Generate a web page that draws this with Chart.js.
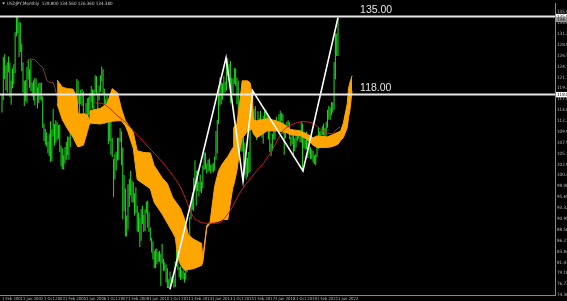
<!DOCTYPE html>
<html>
<head>
<meta charset="utf-8">
<script src="https://cdn.jsdelivr.net/npm/chart.js@4.4.1/dist/chart.umd.min.js"></script>
<style>
  html, body { margin: 0; padding: 0; background: #000; }
  canvas { display: block; }
</style>
</head>
<body>
<canvas id="usdjpy-chart" width="567" height="301"></canvas>
<script>
// USDJPY, Monthly - Feb 2001 .. Jun 2022
const chartTitle = 'USDJPY,Monthly  128.800 134.560 126.360 134.380';

// x axis labels (one every 16 months)
const tickMonths = [0, 16, 32, 48, 64, 80, 96, 112, 128, 144, 160, 176, 192, 208, 224, 240, 256];
const tickLabels = ['1 Feb 2001', '1 Jun 2002', '1 Oct 2003', '1 Feb 2005', '1 Jun 2006', '1 Oct 2007',
  '1 Feb 2009', '1 Jun 2010', '1 Oct 2011', '1 Feb 2013', '1 Jun 2014', '1 Oct 2015',
  '1 Feb 2017', '1 Jun 2018', '1 Oct 2019', '1 Feb 2021', '1 Jun 2022'];

// price scale labels
const priceTicks = [74.36, 76.73, 79.10, 81.47, 83.84, 86.21, 88.58, 90.95, 93.32, 95.69, 98.06,
  100.43, 102.80, 105.17, 107.54, 109.91, 112.28, 114.65, 117.02, 119.39, 121.76, 124.13,
  126.50, 128.87, 131.24, 133.61, 135.98];

// monthly highs
const highs = [
  118.0, 126.2, 126.8, 124.4, 125.0, 126.3, 125.0, 121.1, 123.7, 124.6, 131.6,              // 2001
  135.2, 135.0, 133.8, 133.7, 129.1, 125.0, 121.0, 121.2, 124.0, 125.7, 123.5, 125.6,       // 2002
  120.6, 121.1, 121.6, 121.5, 119.6, 120.5, 120.6, 120.6, 117.6, 111.7, 110.5, 109.8,       // 2003
  107.8, 109.5, 112.2, 110.4, 114.9, 111.6, 112.4, 112.0, 111.4, 111.5, 106.9, 106.3,       // 2004
  104.8, 106.6, 107.7, 108.9, 108.8, 111.1, 113.3, 112.5, 113.6, 116.4, 121.4, 121.0,       // 2005
  118.0, 119.0, 119.2, 118.7, 114.0, 116.2, 117.2, 117.4, 118.3, 119.9, 119.1, 119.1,       // 2006
  122.2, 122.0, 118.3, 120.0, 122.2, 124.1, 123.5, 119.3, 117.0, 117.9, 115.0, 114.7,       // 2007
  114.7, 108.6, 104.0, 105.0, 105.6, 108.6, 108.6, 110.7, 110.0, 106.5, 100.5, 97.5,        // 2008
  91.7, 98.5, 99.7, 101.4, 99.3, 98.9, 96.5, 97.8, 93.8, 92.3, 91.1, 93.1,                  // 2009
  93.8, 91.8, 93.0, 94.7, 94.9, 92.4, 89.1, 86.8, 86.0, 84.0, 84.4, 84.5,                   // 2010
  83.7, 84.0, 83.3, 85.5, 82.2, 81.5, 81.0, 80.2, 77.8, 79.5, 78.3, 78.3,                   // 2011
  77.9, 81.7, 84.2, 83.1, 80.4, 80.6, 79.8, 79.7, 79.2, 80.4, 82.8, 86.6,                   // 2012
  91.3, 94.5, 96.7, 99.9, 103.7, 101.5, 101.5, 99.0, 100.6, 99.0, 102.6, 105.4,             // 2013
  105.4, 103.0, 103.8, 104.1, 102.8, 102.8, 103.1, 104.5, 110.1, 112.5, 119.0, 121.8,       // 2014
  120.8, 120.5, 122.0, 120.8, 124.5, 125.9, 124.6, 125.3, 121.7, 121.5, 123.8, 123.7,       // 2015
  121.7, 121.0, 114.0, 112.7, 111.4, 110.0, 107.5, 104.3, 104.2, 105.5, 114.8, 118.7,       // 2016
  118.6, 114.9, 115.5, 112.2, 114.4, 112.9, 114.5, 111.0, 113.3, 114.4, 114.7, 113.8,       // 2017
  113.4, 111.5, 107.3, 109.5, 111.4, 111.0, 113.2, 111.8, 113.7, 114.5, 114.0, 113.7,       // 2018
  110.0, 111.5, 112.1, 112.4, 112.0, 108.8, 109.0, 109.3, 108.5, 109.3, 109.7, 109.7,       // 2019
  110.3, 112.2, 111.7, 109.4, 108.1, 109.9, 107.8, 107.1, 106.6, 106.1, 105.7, 104.8,       // 2020
  105.0, 106.7, 110.9, 110.0, 110.2, 111.1, 111.7, 110.8, 112.1, 114.7, 115.5, 115.2,       // 2021
  116.4, 116.3, 125.1, 131.3, 131.3, 134.6                                                   // 2022
];

// monthly lows
const lows = [
  114.1, 116.8, 121.4, 118.9, 118.4, 122.8, 117.5, 115.8, 119.4, 120.3, 122.7,              // 2001
  130.7, 131.3, 126.2, 127.3, 123.1, 118.4, 115.5, 116.6, 116.2, 121.3, 119.5, 118.8,       // 2002
  117.6, 116.7, 115.7, 117.8, 115.0, 116.2, 116.9, 116.7, 110.8, 107.9, 107.1, 106.7,       // 2003
  105.2, 104.6, 103.4, 103.5, 108.9, 106.9, 107.5, 108.0, 108.4, 105.5, 102.4, 101.8,       // 2004
  101.7, 103.0, 103.8, 104.8, 103.8, 106.6, 110.3, 108.7, 109.2, 113.1, 115.1, 115.9,       // 2005
  113.4, 115.9, 115.5, 113.4, 108.9, 110.0, 113.2, 113.5, 114.7, 116.3, 114.9, 114.4,       // 2006
  118.4, 118.2, 111.6, 116.8, 118.6, 120.9, 118.2, 111.6, 113.2, 113.2, 107.2, 107.9,       // 2007
  104.9, 104.4, 95.7, 99.5, 101.5, 103.6, 103.8, 107.7, 102.6, 90.9, 92.7, 87.1,            // 2008
  87.1, 88.6, 93.5, 96.1, 94.5, 94.5, 91.7, 92.2, 88.2, 88.0, 84.8, 86.2,                   // 2009
  89.8, 88.1, 88.3, 92.1, 89.0, 88.1, 86.2, 83.6, 82.1, 80.2, 80.2, 81.0,                   // 2010
  81.5, 81.6, 76.3, 81.2, 79.6, 79.7, 77.1, 75.9, 75.9, 75.6, 76.9, 77.0,                   // 2011
  76.0, 76.1, 80.5, 79.8, 78.2, 77.6, 77.9, 77.9, 77.1, 77.7, 79.3, 81.7,                   // 2012
  86.5, 90.9, 92.9, 92.6, 97.2, 93.8, 97.0, 95.8, 96.9, 96.6, 97.6, 101.6,                  // 2013
  101.8, 100.8, 101.2, 101.4, 100.8, 101.2, 101.1, 101.5, 103.8, 105.2, 111.6, 115.6,       // 2014
  115.9, 116.9, 118.3, 118.5, 118.9, 122.1, 121.9, 116.2, 118.6, 118.1, 120.3, 119.9,       // 2015
  115.9, 111.0, 110.7, 105.6, 105.6, 99.0, 100.6, 99.5, 100.1, 100.9, 101.2, 112.9,         // 2016
  111.6, 111.7, 110.1, 108.1, 110.2, 108.8, 110.6, 108.6, 107.3, 111.7, 110.8, 111.9,       // 2017
  108.3, 105.5, 104.6, 105.7, 108.3, 108.1, 110.3, 110.1, 110.4, 111.4, 112.3, 109.5,       // 2018
  104.9, 108.5, 109.7, 110.8, 108.3, 106.8, 107.2, 104.4, 105.7, 106.5, 107.9, 108.4,       // 2019
  107.6, 107.5, 101.2, 106.4, 106.0, 106.1, 104.2, 105.1, 104.0, 104.0, 103.2, 102.9,       // 2020
  102.6, 104.4, 106.1, 107.5, 108.3, 109.2, 109.1, 108.7, 109.1, 110.8, 112.5, 112.5,       // 2021
  113.5, 114.1, 114.7, 121.3, 126.4, 126.4                                                   // 2022
];

// ichimoku cloud (month index, upper edge, lower edge)
const cloudIdx = [42, 46, 50, 54, 57, 58, 62, 65, 66.5, 67, 75, 80, 84, 88, 91, 94, 96, 100, 103, 108,
  113, 116, 122, 126, 130, 132, 134, 136, 139, 142, 146, 152, 153, 156, 158.5, 162, 165, 168, 172, 176,
  176.5, 179, 181, 183, 185, 187, 189, 190.5, 191.5, 194, 202, 209, 214, 217, 220, 227, 232, 237, 240, 248,
  252, 256, 258, 260, 263, 264, 265, 266.7];
const cloudTop = [121.2, 119.6, 119.3, 119.2, 117.5, 113.8, 113.8, 113.6, 112.5, 114.5, 115.0, 116.0, 119.3, 118.4, 114.9, 112.3, 111.5, 109.8, 105.8, 105.4,
  105.3, 102.5, 99.9, 98.6, 95.6, 94.8, 94.0, 93.2, 91.0, 87.4, 86.5, 85.6, 82.5, 89.5, 90.2, 98.0, 101.4, 103.0, 104.5, 106.5,
  110.8, 111.7, 116.0, 121.0, 121.0, 121.0, 120.6, 118.2, 112.5, 112.3, 112.75, 112.3, 111.7, 111.0, 110.4, 110.1, 109.5, 108.6, 109.0, 108.8,
  109.3, 109.8, 110.1, 111.7, 116.0, 119.3, 120.5, 122.1];
const cloudBottom = [116.0, 112.5, 110.5, 108.8, 107.0, 106.6, 107.0, 109.9, 111.5, 111.8, 111.6, 112.0, 112.2, 112.3, 112.3, 111.2, 109.8, 106.3, 99.5, 98.5,
  97.5, 94.5, 92.0, 90.0, 88.0, 86.9, 82.5, 81.0, 79.75, 79.9, 80.1, 80.8, 81.5, 89.0, 90.0, 90.2, 90.4, 90.8, 90.8, 98.0,
  98.2, 101.5, 105.8, 108.6, 109.2, 110.1, 110.3, 110.5, 109.5, 108.6, 110.1, 110.1, 109.9, 109.7, 109.2, 109.1, 108.3, 107.0, 106.5, 106.5,
  106.7, 107.2, 108.0, 108.6, 110.8, 113.0, 114.5, 118.8];

// slow red average
const redIdx = [71, 77, 88, 95, 105, 114, 123, 136, 146, 150, 156, 164, 174, 181, 194, 199, 206, 214, 219, 225,
  230, 237, 244, 248, 252, 255, 257.5];
const redVals = [116.2, 116.0, 113.4, 111.7, 108.6, 105.8, 103.0, 97.8, 91.3, 90.4, 90.0, 90.0, 92.8, 96.5, 101.4, 103.0, 106.0, 110.1, 111.2, 111.9,
  112.1, 111.7, 110.2, 109.6, 109.5, 110.5, 111.0];

// dim brown span at the start
const brownIdx = [19, 21.3, 25, 27.4, 31.2, 34.3, 36.6, 38.9, 40.4, 42];
const brownVals = [124.9, 125.8, 125.6, 124.9, 123.8, 121.0, 120.6, 120.6, 119.5, 117.3];

// hand drawn zigzag and levels
const zigIdx = [128, 170.7, 183.6, 191, 229.3, 256];
const zigVals = [75.6, 126.0, 99.2, 118.8, 101.4, 134.8];
const levels = [135, 118];
const bidPrice = 134.38;

const X_MIN = -1.52, X_MAX = 421.3;
const Y_MIN = 74.36, Y_MAX = 137.8;
const smallFont = '"Liberation Sans Narrow", "DejaVu Sans Condensed", sans-serif';

const pts = (xs, ys) => xs.map((x, i) => ({ x: x, y: ys[i] }));

const datasets = [
  {
    type: 'bar',
    data: highs.map((h, i) => ({ x: i, y: [lows[i], h] })),
    backgroundColor: '#1fd41f',
    borderWidth: 0,
    barPercentage: 0.8,
    categoryPercentage: 1,
    order: 6
  },
  {
    type: 'line',
    data: pts(cloudIdx, cloudTop),
    borderColor: '#ffa500',
    borderWidth: 1,
    backgroundColor: '#ffa500',
    fill: '+1',
    pointRadius: 0,
    order: 5
  },
  {
    type: 'line',
    data: pts(cloudIdx, cloudBottom),
    borderColor: '#ffa500',
    borderWidth: 1,
    fill: false,
    pointRadius: 0,
    order: 5
  },
  {
    type: 'line',
    data: pts(brownIdx, brownVals),
    borderColor: '#7a4716',
    borderWidth: 1,
    fill: false,
    pointRadius: 0,
    order: 4
  },
  {
    type: 'line',
    data: pts(redIdx, redVals),
    borderColor: '#d01e1e',
    borderWidth: 1,
    fill: false,
    pointRadius: 0,
    cubicInterpolationMode: 'monotone',
    order: 3
  },
  {
    type: 'line',
    data: pts(zigIdx, zigVals),
    borderColor: '#ffffff',
    borderWidth: 1.6,
    fill: false,
    pointRadius: 0,
    order: 2
  }
];

levels.forEach((lvl) => {
  datasets.push({
    type: 'line',
    data: [{ x: X_MIN, y: lvl }, { x: X_MAX, y: lvl }],
    borderColor: '#e8e8e8',
    borderWidth: 2,
    fill: false,
    pointRadius: 0,
    order: 1
  });
});

const mt4Overlay = {
  id: 'mt4Overlay',
  beforeDraw(chart) {
    const ctx = chart.ctx;
    ctx.save();
    ctx.fillStyle = '#000';
    ctx.fillRect(0, 0, chart.width, chart.height);
    ctx.restore();
  },
  afterDraw(chart) {
    const ctx = chart.ctx;
    const xs = chart.scales.x;
    const ys = chart.scales.y;
    const area = chart.chartArea;
    ctx.save();

    // title
    ctx.fillStyle = '#cfcfcf';
    ctx.beginPath();
    ctx.moveTo(2, 2.5); ctx.lineTo(5, 2.5); ctx.lineTo(3.5, 4.5); ctx.closePath();
    ctx.fill();
    ctx.font = '4.5px ' + smallFont;
    ctx.textBaseline = 'middle';
    ctx.fillText(chartTitle, 7, 3.8);

    // level captions
    ctx.font = '10.5px "Liberation Sans"';
    ctx.fillStyle = '#e6e6e6';
    ctx.textBaseline = 'bottom';
    levels.forEach((lvl) => {
      ctx.fillText(lvl.toFixed(2), xs.getPixelForValue(272.8), ys.getPixelForValue(lvl) - 1.5);
    });

    // price boxes on the axis
    ctx.font = '4.5px ' + smallFont;
    ctx.textBaseline = 'middle';
    levels.forEach((lvl) => {
      const py = ys.getPixelForValue(lvl);
      ctx.fillStyle = '#ffffff';
      ctx.fillRect(area.right + 1, py - 2.7, 12, 5.4);
      ctx.fillStyle = '#000000';
      ctx.fillText(lvl.toFixed(3), area.right + 2, py);
    });
    const by = ys.getPixelForValue(bidPrice);
    ctx.fillStyle = '#9a9a9a';
    ctx.fillRect(area.right + 1, by - 2.7, 12, 5.4);
    ctx.fillStyle = '#000000';
    ctx.fillText(bidPrice.toFixed(3), area.right + 2, by);

    ctx.restore();
  }
};

const config = {
  type: 'bar',
  data: { datasets: datasets },
  options: {
    responsive: false,
    animation: false,
    layout: { padding: 0 },
    plugins: {
      legend: { display: false },
      tooltip: { enabled: false }
    },
    scales: {
      x: {
        type: 'linear',
        min: X_MIN,
        max: X_MAX,
        offset: false,
        grid: { drawOnChartArea: false, drawTicks: true, tickLength: 1, color: '#8a8a8a' },
        border: { color: '#8a8a8a' },
        afterBuildTicks: (scale) => { scale.ticks = tickMonths.map((m) => ({ value: m })); },
        afterFit: (scale) => { scale.height = 6; },
        ticks: {
          align: 'start',
          padding: 0,
          maxRotation: 0,
          autoSkip: false,
          color: '#bdbdbd',
          font: { size: 4.2, family: smallFont },
          callback: (v, i) => tickLabels[i]
        }
      },
      y: {
        position: 'right',
        min: Y_MIN,
        max: Y_MAX,
        grid: { drawOnChartArea: false, drawTicks: true, tickLength: 1, color: '#8a8a8a' },
        border: { color: '#8a8a8a' },
        afterBuildTicks: (scale) => { scale.ticks = priceTicks.map((p) => ({ value: p })); },
        afterFit: (scale) => { scale.width = 12; },
        ticks: {
          padding: 1,
          color: '#bdbdbd',
          font: { size: 4.5, family: smallFont },
          callback: (v) => v.toFixed(3)
        }
      }
    }
  },
  plugins: [mt4Overlay]
};

const ctx = document.getElementById('usdjpy-chart').getContext('2d');
const usdjpyChart = new Chart(ctx, config);
</script>
</body>
</html>
